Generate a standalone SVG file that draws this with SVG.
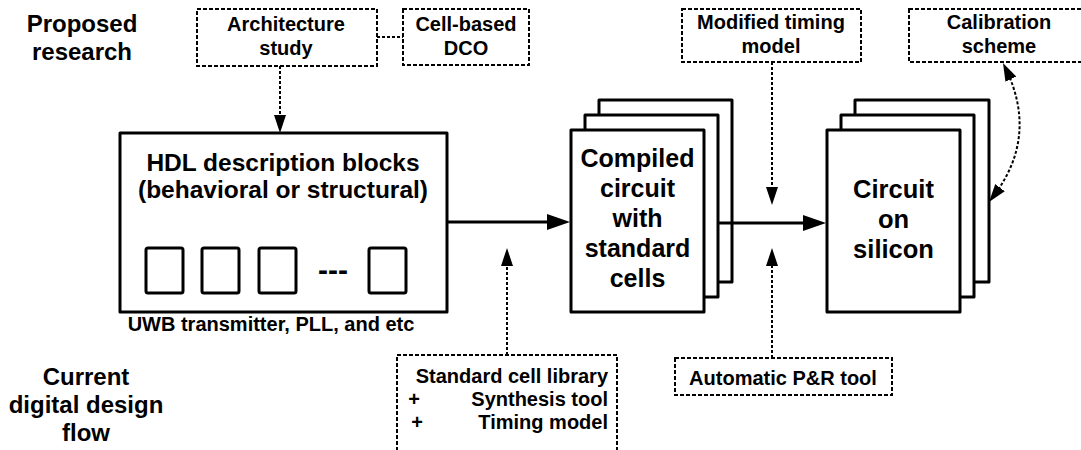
<svg xmlns="http://www.w3.org/2000/svg" width="1081" height="450" viewBox="0 0 1081 450">
  <style>
    text { font-family: "Liberation Sans", Arial, sans-serif; font-weight: bold; fill: #000; }
    .head { font-size: 24px; text-anchor: middle; }
    .lbl { font-size: 20px; text-anchor: middle; }
    .big { font-size: 25px; text-anchor: middle; }
    .hdl { font-size: 24.5px; text-anchor: middle; }
    .r { text-anchor: end; }
    .solid { fill: #fff; stroke: #000; stroke-width: 3; stroke-linejoin: round; }
    .dash { fill: #fff; stroke: #000; stroke-width: 2; stroke-dasharray: 4 2; }
    .flow { fill: none; stroke: #000; stroke-width: 3; }
    .dot { fill: none; stroke: #000; stroke-width: 2; stroke-dasharray: 3 2; }
  </style>
  <defs>
    <marker id="arrow" markerUnits="userSpaceOnUse" markerWidth="24" markerHeight="16" refX="13" refY="8" orient="auto">
      <path d="M0,0 L23,8 L0,16 z" fill="#000"/>
    </marker>
    <marker id="arrowSm" markerUnits="userSpaceOnUse" markerWidth="19" markerHeight="12" refX="12" refY="6" orient="auto-start-reverse">
      <path d="M0,0 L18,6 L0,12 z" fill="#000"/>
    </marker>
  </defs>

  <!-- side headings -->
  <g id="heading-proposed">
    <text class="head" x="82" y="32">Proposed</text>
    <text class="head" x="82" y="60">research</text>
  </g>
  <g id="heading-current">
    <text class="head" x="86" y="385">Current</text>
    <text class="head" x="86" y="413">digital design</text>
    <text class="head" x="86" y="441">flow</text>
  </g>

  <!-- proposed research items -->
  <g id="architecture-study">
    <rect class="dash" x="197" y="9" width="180" height="57"/>
    <text class="lbl" x="286" y="31">Architecture</text>
    <text class="lbl" x="286" y="55">study</text>
  </g>
  <g id="cell-based-dco">
    <rect class="dash" x="403" y="9" width="126" height="56"/>
    <text class="lbl" x="466" y="31">Cell-based</text>
    <text class="lbl" x="466" y="55">DCO</text>
  </g>
  <g id="modified-timing-model">
    <rect class="dash" x="682" y="9" width="179" height="53"/>
    <text class="lbl" x="771" y="29">Modified timing</text>
    <text class="lbl" x="771" y="53">model</text>
  </g>
  <g id="calibration-scheme">
    <rect class="dash" x="909" y="9" width="180" height="53"/>
    <text class="lbl" x="999" y="29">Calibration</text>
    <text class="lbl" x="999" y="53">scheme</text>
  </g>

  <!-- HDL description blocks -->
  <g id="hdl-blocks">
    <rect class="solid" x="120" y="133" width="327" height="179"/>
    <text class="hdl" x="283" y="171">HDL description blocks</text>
    <text class="hdl" x="283" y="198">(behavioral or structural)</text>
    <rect class="solid" x="146" y="248" width="37" height="45" rx="2"/>
    <rect class="solid" x="202" y="248" width="37" height="45" rx="2"/>
    <rect class="solid" x="259" y="248" width="37" height="45" rx="2"/>
    <text x="333" y="280" style="font-size:30px;text-anchor:middle">---</text>
    <rect class="solid" x="369" y="248" width="37" height="45" rx="2"/>
    <text class="lbl" x="271" y="331">UWB transmitter, PLL, and etc</text>
  </g>

  <!-- compiled circuit (stack of sheets) -->
  <g id="compiled-circuit">
    <rect class="solid" x="599" y="100" width="133" height="182"/>
    <rect class="solid" x="585" y="115" width="133" height="182"/>
    <rect class="solid" x="571" y="130" width="133" height="182"/>
    <text class="big" x="637.5" y="167">Compiled</text>
    <text class="big" x="637.5" y="197">circuit</text>
    <text class="big" x="637.5" y="227">with</text>
    <text class="big" x="637.5" y="257">standard</text>
    <text class="big" x="637.5" y="287">cells</text>
  </g>

  <!-- circuit on silicon (stack of sheets) -->
  <g id="circuit-on-silicon">
    <rect class="solid" x="855" y="100" width="134" height="182"/>
    <rect class="solid" x="841" y="115" width="133" height="182"/>
    <rect class="solid" x="827" y="130" width="133" height="182"/>
    <text class="big" x="893.5" y="198" style="font-size:25.5px">Circuit</text>
    <text class="big" x="893.5" y="228" style="font-size:25.5px">on</text>
    <text class="big" x="893.5" y="258" style="font-size:25.5px">silicon</text>
  </g>

  <!-- current flow tools -->
  <g id="standard-cell-library">
    <rect class="dash" x="397" y="355" width="220" height="110"/>
    <text class="lbl r" x="608" y="383">Standard cell library</text>
    <text class="lbl" x="414" y="406">+</text>
    <text class="lbl r" x="608" y="406">Synthesis tool</text>
    <text class="lbl" x="417" y="429">+</text>
    <text class="lbl r" x="608" y="429">Timing model</text>
  </g>
  <g id="automatic-pr-tool">
    <rect class="dash" x="675" y="358" width="217" height="37"/>
    <text class="lbl" x="783" y="385">Automatic P&amp;R tool</text>
  </g>

  <!-- connectors -->
  <g id="connectors">
    <line class="dot" x1="377" y1="37" x2="403" y2="37"/>
    <line class="dot" x1="280" y1="66" x2="280" y2="127" marker-end="url(#arrowSm)"/>
    <line class="flow" x1="447" y1="222" x2="560" y2="222" marker-end="url(#arrow)"/>
    <line class="flow" x1="718" y1="223" x2="816" y2="223" marker-end="url(#arrow)"/>
    <line class="dot" x1="772" y1="62" x2="772" y2="199" marker-end="url(#arrowSm)"/>
    <line class="dot" x1="772" y1="358" x2="772" y2="254" marker-end="url(#arrowSm)"/>
    <line class="dot" x1="507" y1="355" x2="507" y2="254" marker-end="url(#arrowSm)"/>
    <path class="dot" d="M1005.6,68.4 Q1039,137 992.7,197.2" marker-start="url(#arrowSm)" marker-end="url(#arrowSm)"/>
  </g>
</svg>
